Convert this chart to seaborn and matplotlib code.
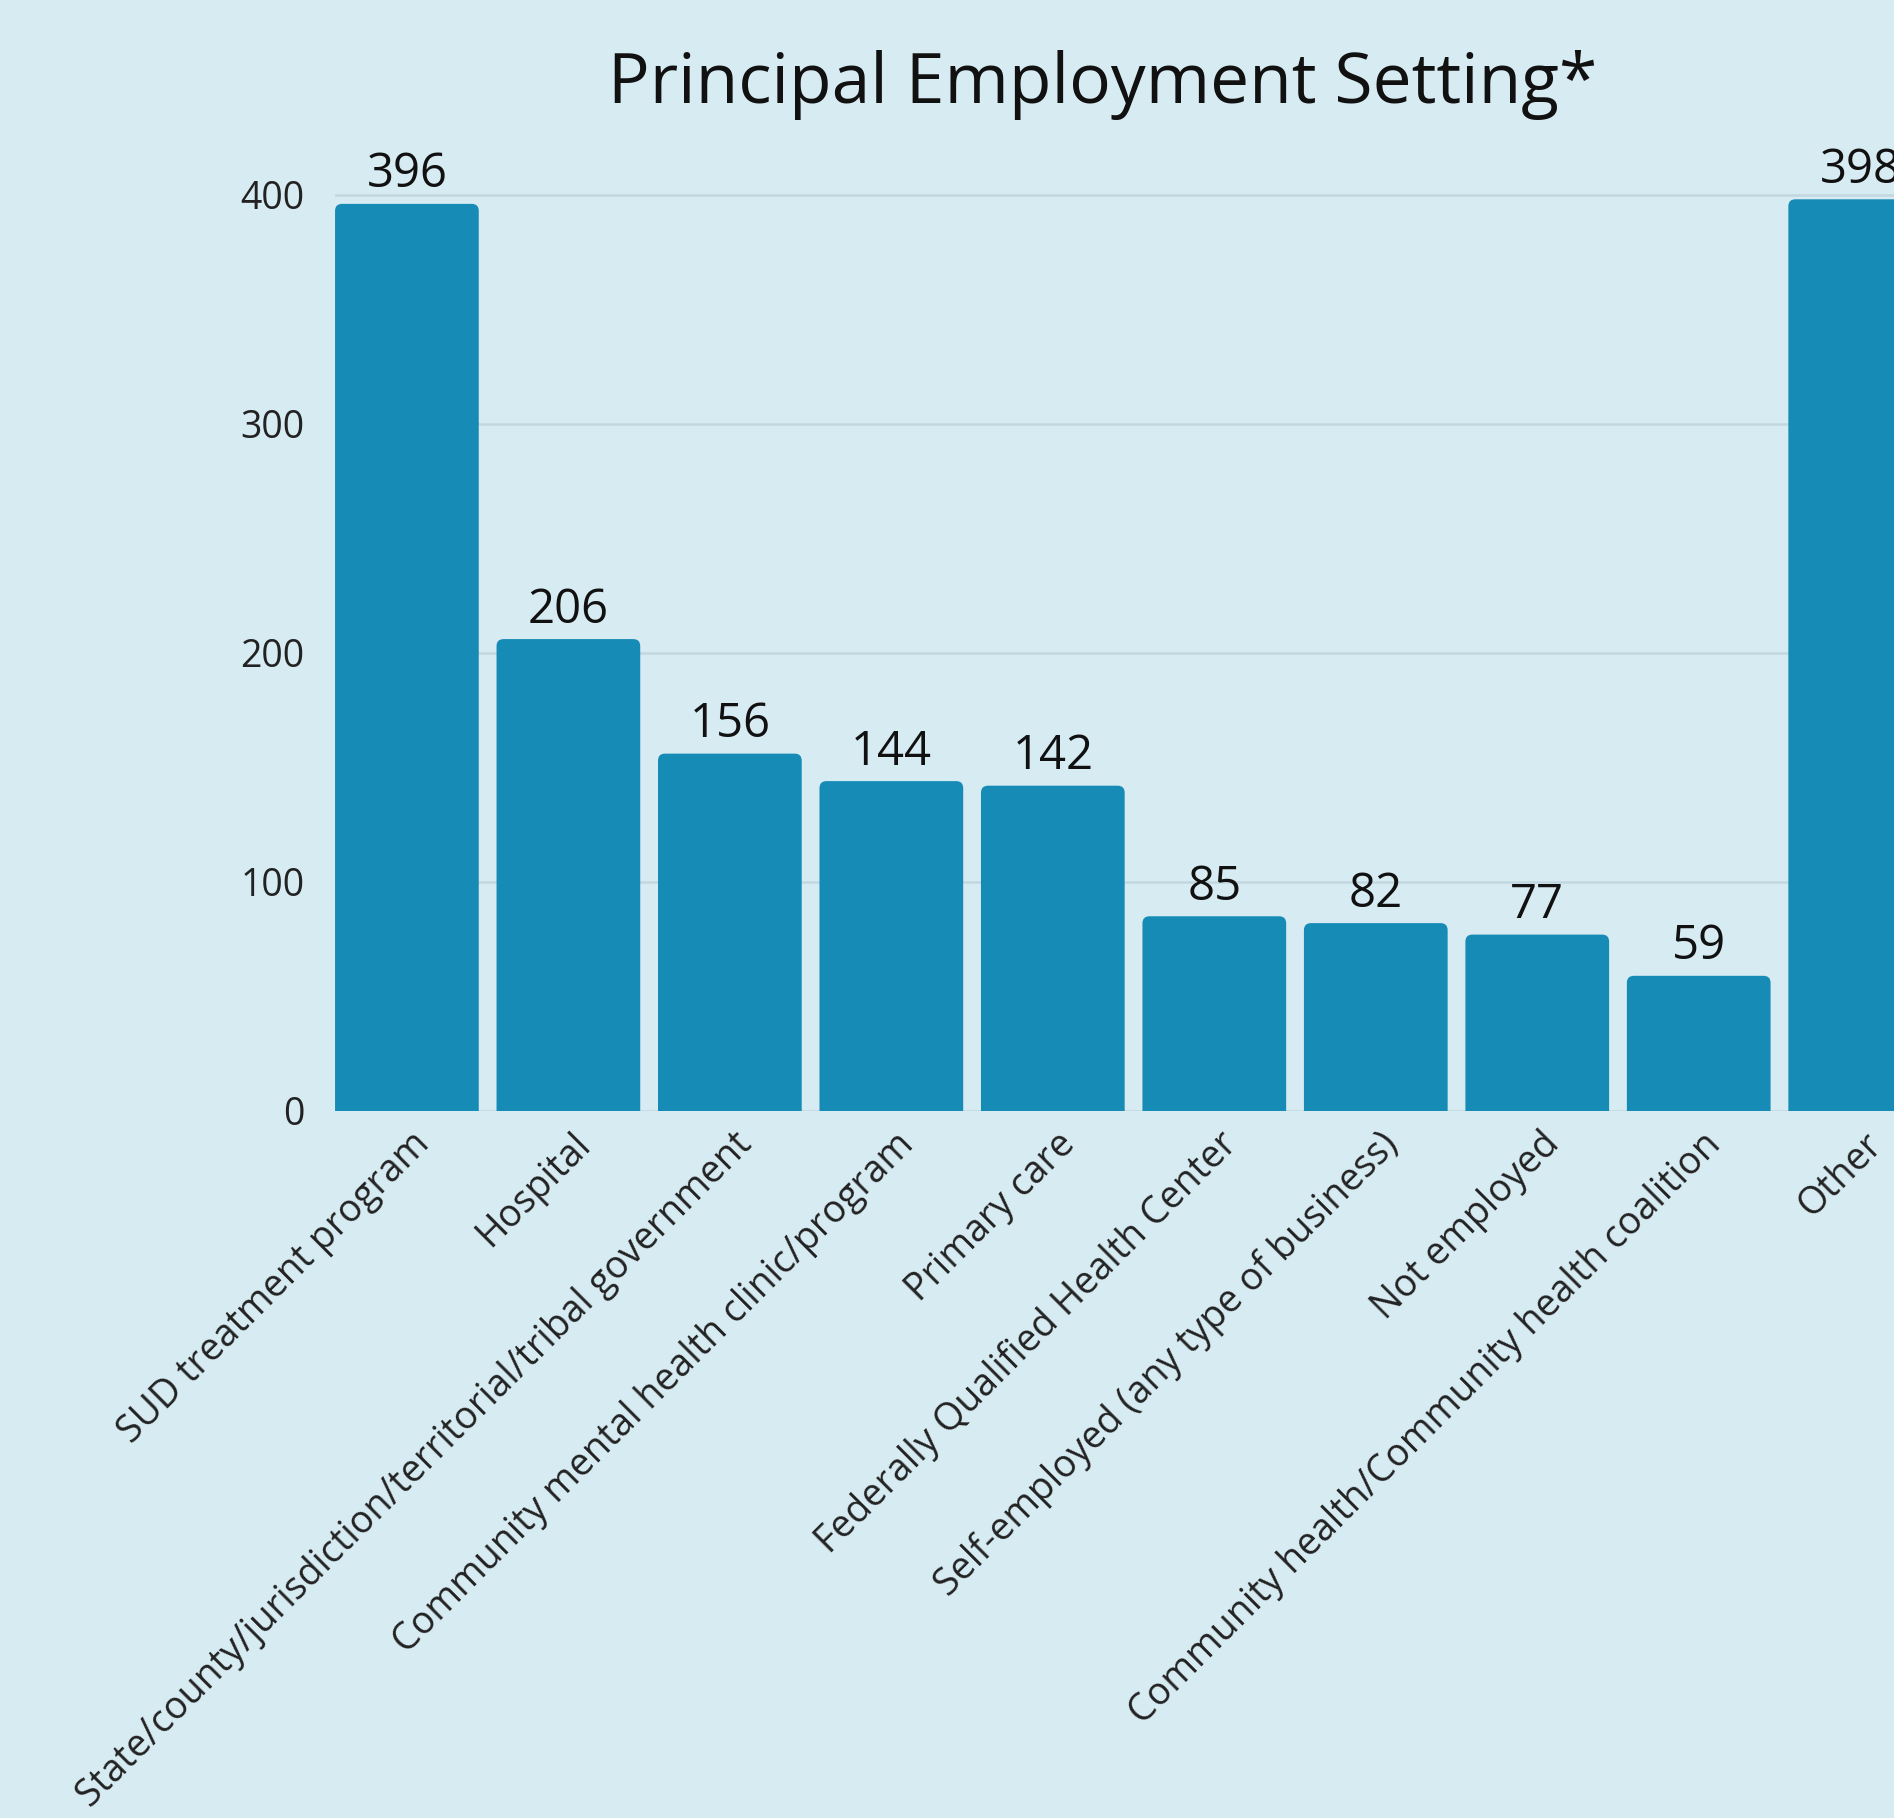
import matplotlib
matplotlib.use("Agg")
import matplotlib.pyplot as plt
import matplotlib.transforms as mtransforms
from matplotlib.patches import FancyBboxPatch
import seaborn as sns
import pandas as pd

# data
settings = [
    "SUD treatment program",
    "Hospital",
    "State/county/jurisdiction/territorial/tribal government",
    "Community mental health clinic/program",
    "Primary care",
    "Federally Qualified Health Center",
    "Self-employed (any type of business)",
    "Not employed",
    "Community health/Community health coalition",
    "Other",
]
counts = [396, 206, 156, 144, 142, 85, 82, 77, 59, 398]
y_ticks = [0, 100, 200, 300, 400]

bg = "#D7EBF2"
bar_color = "#168BB5"
grid_color = "#C2D7E0"

sns.set_theme(style="white")
plt.rcParams['font.family'] = ['Open Sans', 'DejaVu Sans']

df = pd.DataFrame({"setting": settings, "count": counts})

fig = plt.figure(figsize=(18.94, 18.18), dpi=100, facecolor=bg)
# axes run a bit past the right edge, so the last bar is cut off like the original
ax = fig.add_axes([0.1769, 0.3889, 0.8432, 0.5292])
ax.set_facecolor(bg)

sns.barplot(data=df, x="setting", y="count", color=bar_color, width=0.89,
            saturation=1, linewidth=0, ax=ax, zorder=3)

ax.set_xlim(-0.445, 9.445)
ax.set_ylim(0, 420)

# swap the plain rectangles for ones with slightly rounded tops
fig.canvas.draw()
px_x = ax.transData.transform((1, 0))[0] - ax.transData.transform((0, 0))[0]
px_y = ax.transData.transform((0, 1))[1] - ax.transData.transform((0, 0))[1]
for p in list(ax.patches):
    x, w, h = p.get_x(), p.get_width(), p.get_height()
    p.remove()
    ax.add_patch(FancyBboxPatch((x, -20), w, h + 20,
                                boxstyle="round,pad=0,rounding_size=%f" % (7 / px_x),
                                mutation_aspect=px_x / px_y,
                                facecolor=bar_color, edgecolor="none", zorder=3))

ax.set_yticks(y_ticks)
ax.set_yticklabels([str(v) for v in y_ticks], fontsize=27, color="#222222")
ax.yaxis.grid(True, color=grid_color, linewidth=1.8, zorder=0)
ax.set_axisbelow(True)
ax.tick_params(axis="y", length=0, pad=22)
ax.tick_params(axis="x", length=0, pad=20)
for s in ax.spines.values():
    s.set_visible(False)
ax.set_xlabel("")
ax.set_ylabel("")

ax.set_xticks(range(len(settings)))
ax.set_xticklabels(settings, rotation=45, ha="right", va="center",
                   rotation_mode="anchor", fontsize=27, color="#222222")
shift = mtransforms.ScaledTranslation(12 / 72, 0, fig.dpi_scale_trans)
for lab in ax.get_xticklabels():
    lab.set_transform(lab.get_transform() + shift)

# value labels on top of the bars
for i, v in enumerate(counts):
    ax.annotate(str(v), (i, v), xytext=(0, 4), textcoords="offset points",
                ha="center", va="bottom", fontsize=34, color="#111111")

fig.text(0.582, 0.953, "Principal Employment Setting*", ha="center", va="center",
         fontsize=50, color="#111111")

fig.savefig("out.png", dpi=100, facecolor=bg)
